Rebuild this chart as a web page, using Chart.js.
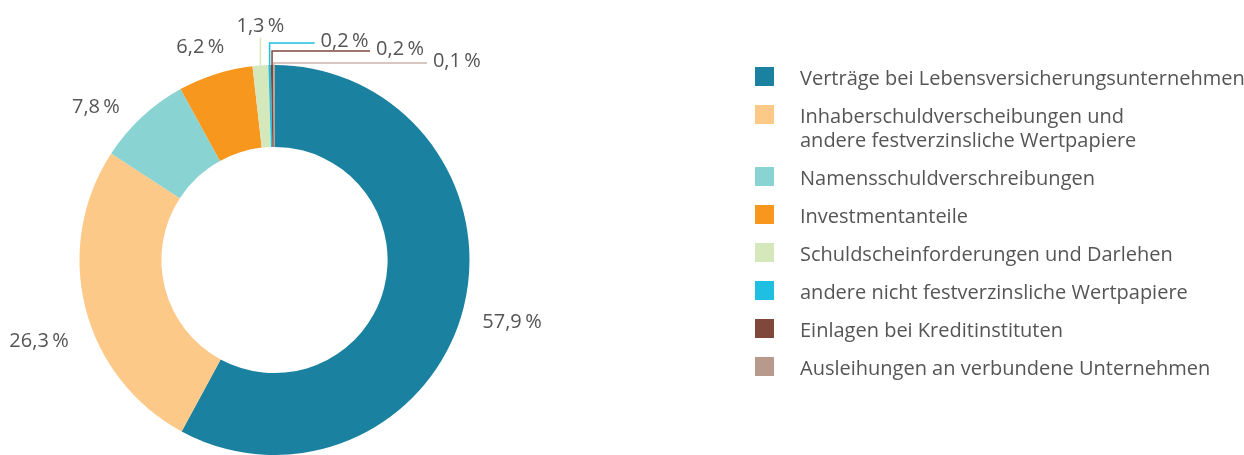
<!DOCTYPE html>
<html lang="de">
<head>
<meta charset="utf-8">
<script src="https://cdn.jsdelivr.net/npm/chart.js@4/dist/chart.umd.min.js"></script>
<style>
    html, body { margin: 0; padding: 0; background: #fff; overflow: hidden; }
    #wrap { position: relative; width: 1244px; height: 455px; }
    #myChart { position: absolute; left: 0; top: 0; }
    #legend { position: absolute; left: 755px; top: 65px; font-family: 'Open Sans', sans-serif; font-size: 20px; color: #555; }
    .item { display: flex; align-items: flex-start; margin-bottom: 14px; }
    .box { width: 19px; height: 19px; margin-top: 2px; flex: none; }
    .txt { margin-left: 26px; margin-top: 1px; margin-bottom: -1px; line-height: 24px; white-space: pre; }
</style>
</head>
<body>
<div id="wrap">
    <canvas id="myChart" width="1244" height="455"></canvas>
    <div id="legend"></div>
</div>
<script>
// Daten
const categories = [
    'Verträge bei Lebensversicherungsunternehmen',
    'Inhaberschuldverscheibungen und\nandere festverzinsliche Wertpapiere',
    'Namensschuldverschreibungen',
    'Investmentanteile',
    'Schuldscheinforderungen und Darlehen',
    'andere nicht festverzinsliche Wertpapiere',
    'Einlagen bei Kreditinstituten',
    'Ausleihungen an verbundene Unternehmen'
];
const shares = [57.9, 26.3, 7.8, 6.2, 1.3, 0.2, 0.2, 0.1];
const colors = ['#1a82a0', '#fdc989', '#89d3d3', '#f7971e', '#d4e8bc', '#1ebfe0', '#80473b', '#b89a8c'];
const lineColors = ['', '', '', '', '#d4e8bc', '#1ebfe0', '#80473b', '#c9b4aa'];

// label placement (style only)
const labelPos = [
    { dx: 0, dy: 2 },
    { dx: 2, dy: 21 },
    { dx: -12, dy: 27 },
    { dx: 0, dy: 21 },
    { rise: 28, run: 0 },
    { rise: 22, run: 45 },
    { rise: 14, run: 98 },
    { rise: 2, run: 153 }
];

function fmt(v) {
    return v.toFixed(1).replace('.', ',') + '\u2009%';
}

const labelPlugin = {
    id: 'sliceLabels',
    afterDatasetsDraw(chart) {
        const ctx = chart.ctx;
        const meta = chart.getDatasetMeta(0);
        ctx.save();
        ctx.font = '20px "Open Sans", sans-serif';
        ctx.fillStyle = '#555';
        meta.data.forEach(function(arc, i) {
            const p = arc.getProps(['x', 'y', 'startAngle', 'endAngle', 'outerRadius'], true);
            const mid = (p.startAngle + p.endAngle) / 2;
            const cfg = labelPos[i];
            const text = fmt(shares[i]);
            if (cfg.rise === undefined) {
                const r = p.outerRadius + 50;
                ctx.textAlign = 'center';
                ctx.textBaseline = 'middle';
                ctx.fillText(text, p.x + Math.cos(mid) * r + cfg.dx, p.y + Math.sin(mid) * r + cfg.dy);
            } else {
                const mx = p.x + Math.cos(mid) * p.outerRadius;
                const my = p.y + Math.sin(mid) * p.outerRadius;
                const ty = my - cfg.rise;
                ctx.strokeStyle = lineColors[i];
                ctx.lineWidth = 1.5;
                ctx.beginPath();
                ctx.moveTo(mx, my);
                ctx.lineTo(mx, ty);
                if (cfg.run > 0) ctx.lineTo(mx + cfg.run, ty);
                ctx.stroke();
                ctx.textBaseline = 'middle';
                if (cfg.run > 0) {
                    ctx.textAlign = 'left';
                    ctx.fillText(text, mx + cfg.run + 6, ty - 2);
                } else {
                    ctx.textAlign = 'center';
                    ctx.fillText(text, mx, ty - 11);
                }
            }
        });
        ctx.restore();
    }
};

const chartCtx = document.getElementById('myChart').getContext('2d');
const myChart = new Chart(chartCtx, {
    type: 'doughnut',
    data: {
        labels: categories,
        datasets: [{
            data: shares,
            backgroundColor: colors,
            borderWidth: 0
        }]
    },
    options: {
        responsive: false,
        animation: false,
        devicePixelRatio: 1,
        cutout: '58%',
        layout: {
            padding: { left: 79.5, right: 774.5, top: 65, bottom: 0 }
        },
        plugins: {
            legend: { display: false },
            tooltip: { enabled: false }
        }
    },
    plugins: [labelPlugin]
});

// Legende
const legend = document.getElementById('legend');
categories.forEach(function(name, i) {
    const item = document.createElement('div');
    item.className = 'item';
    const box = document.createElement('div');
    box.className = 'box';
    box.style.background = colors[i];
    const txt = document.createElement('div');
    txt.className = 'txt';
    txt.textContent = name;
    item.appendChild(box);
    item.appendChild(txt);
    legend.appendChild(item);
});
</script>
</body>
</html>
